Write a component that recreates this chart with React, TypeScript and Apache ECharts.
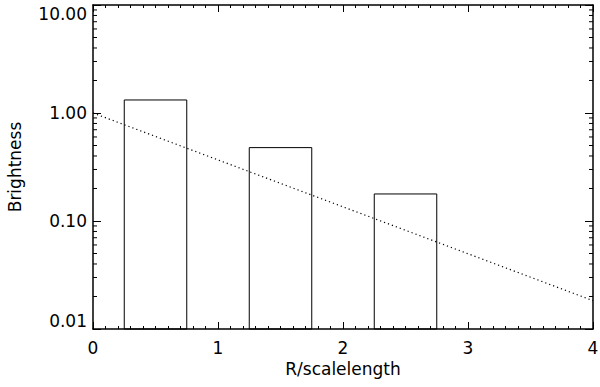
import React, { useEffect, useRef } from "react";
import * as echarts from "echarts";

const barCenters = [0.5, 1.5, 2.5];
const barValues = [1.32, 0.478, 0.178];
const barWidth = 0.5;
const lineX = [0, 4];
const lineY = [1.0, 0.0183];
const yTickLabels = ["0.01", "0.10", "1.00", "10.00"];
const yMinorValues = [
  0.02, 0.03, 0.04, 0.05, 0.06, 0.07, 0.08, 0.09,
  0.2, 0.3, 0.4, 0.5, 0.6, 0.7, 0.8, 0.9,
  2, 3, 4, 5, 6, 7, 8, 9,
];

const FONT = "DejaVu Sans";
const FS = 17;

export default function App() {
  const ref = useRef<HTMLDivElement>(null);
  useEffect(() => {
    const chart = echarts.init(ref.current!, null, { renderer: "svg" });
    const black = "#000";
    const xBase = {
      type: "value",
      min: 0,
      max: 4,
      interval: 1,
      axisLine: { show: true, onZero: false, lineStyle: { color: black, width: 1.5 } },
      axisTick: { show: true, inside: true, length: 7, lineStyle: { color: black } },
      minorTick: { show: true, splitNumber: 10, length: 3, lineStyle: { color: black } },
      splitLine: { show: false },
      minorSplitLine: { show: false },
    };
    const yBase = {
      type: "log",
      logBase: 10,
      min: 0.01,
      max: 10,
      interval: 1,
      axisLine: { show: true, onZero: false, lineStyle: { color: black, width: 1.5 } },
      axisTick: { show: true, inside: true, length: 8, lineStyle: { color: black } },
      splitLine: { show: false },
    };
    chart.setOption({
      animation: false,
      grid: { left: 93, right: 7, top: 5, bottom: 58, containLabel: false, outerBoundsMode: "none" },
      xAxis: [
        {
          ...xBase,
          position: "bottom",
          name: "R/scalelength",
          nameLocation: "middle",
          nameGap: 31,
          nameTextStyle: { color: black, fontFamily: FONT, fontSize: FS },
          axisLabel: { color: black, fontFamily: FONT, fontSize: FS, margin: 10 },
        },
        { ...xBase, position: "top", axisLabel: { show: false } },
      ],
      yAxis: [
        {
          ...yBase,
          position: "left",
          name: "Brightness",
          nameLocation: "middle",
          nameGap: 70,
          nameTextStyle: { color: black, fontFamily: FONT, fontSize: FS },
          axisLabel: {
            color: black,
            fontFamily: FONT,
            fontSize: FS,
            margin: 6,
            verticalAlignMinLabel: "bottom",
            verticalAlignMaxLabel: "top",
            formatter: (v: number) => {
              const e = Math.round(Math.log10(v)) + 2;
              return yTickLabels[e] ?? "";
            },
          },
        },
        { ...yBase, position: "right", axisLabel: { show: false } },
      ],
      series: [
        {
          type: "custom",
          xAxisIndex: 0,
          yAxisIndex: 0,
          data: barCenters.map((c, i) => [c, barValues[i]]),
          renderItem: (params: any, api: any) => {
            const c = api.value(0);
            const v = api.value(1);
            const p0 = api.coord([c - barWidth / 2, 0.01]);
            const p1 = api.coord([c + barWidth / 2, v]);
            return {
              type: "rect",
              shape: { x: p0[0], y: p1[1], width: p1[0] - p0[0], height: p0[1] - p1[1] },
              style: { fill: "none", stroke: black, lineWidth: 1 },
            };
          },
        },
        {
          type: "line",
          xAxisIndex: 0,
          yAxisIndex: 0,
          data: lineX.map((x, i) => [x, lineY[i]]),
          symbol: "none",
          lineStyle: { color: black, width: 1.2, type: [1.2, 3] },
        },
        {
          type: "custom",
          xAxisIndex: 0,
          yAxisIndex: 0,
          clip: false,
          data: yMinorValues.map((v) => [0, v]),
          renderItem: (params: any, api: any) => {
            const v = api.value(1);
            const l = api.coord([0, v]);
            const r = api.coord([4, v]);
            return {
              type: "group",
              children: [
                { type: "line", shape: { x1: l[0], y1: l[1], x2: l[0] + 4, y2: l[1] }, style: { stroke: black, lineWidth: 1 } },
                { type: "line", shape: { x1: r[0], y1: r[1], x2: r[0] - 4, y2: r[1] }, style: { stroke: black, lineWidth: 1 } },
              ],
            };
          },
        },
      ],
    });
    return () => chart.dispose();
  }, []);
  return (
    <div
      ref={ref}
      style={{ position: "fixed", left: 0, top: 0, width: 600, height: 387, background: "#fff" }}
    />
  );
}
